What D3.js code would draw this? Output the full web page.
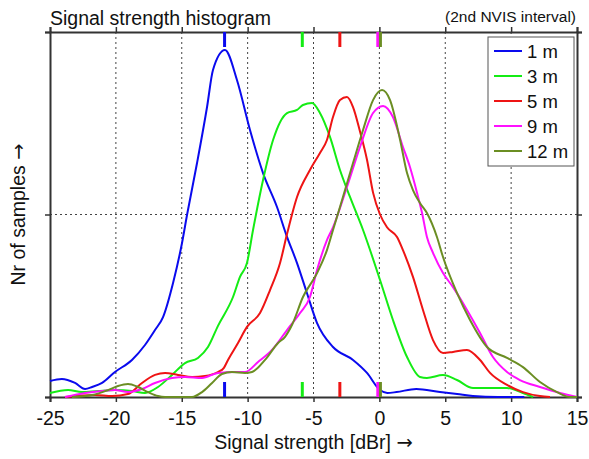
<!DOCTYPE html>
<html>
<head>
<meta charset="utf-8">
<script src="https://cdn.jsdelivr.net/npm/d3@7/dist/d3.min.js"></script>
<style>
  html, body { margin: 0; padding: 0; background: #fff; }
  svg { display: block; font-family: Arial, "Liberation Sans", sans-serif; }
</style>
</head>
<body>
<svg id="chart" width="589" height="459"></svg>
<script>
// ---- data (signal strength in dBr, relative number of samples) ----
const seriesNames = ["1 m", "3 m", "5 m", "9 m", "12 m"];
const seriesColors = ["#0a0aee", "#14ec14", "#ee1414", "#ff10ff", "#6b8e23"];

const s1m = [
  [-25.0,0.088],[-24.1,0.099],[-23.1,0.077],[-22.34,0.044],[-21.8,0.055],[-21.05,0.077],
  [-20.07,0.137],[-18.78,0.203],[-17.79,0.285],[-17.03,0.367],[-16.42,0.438],[-15.66,0.625],
  [-14.98,0.844],[-14.6,0.997],[-13.84,1.282],[-13.08,1.589],[-12.63,1.792],[-11.72,1.901],
  [-10.81,1.737],[-9.82,1.463],[-8.83,1.227],[-7.77,1.041],[-7.01,0.877],[-6.25,0.734],
  [-5.5,0.570],[-4.73,0.405],[-3.52,0.274],[-2.0,0.203],[-0.94,0.132],[0.05,0.038],
  [0.6,0.022],[1.3,0.027],[2.8,0.044],[4.6,0.027],[5.9,0.016],[7.1,0.005],[9.0,0.0],[11.0,0.0]
];
const s3m = [
  [-25.0,0.022],[-23.63,0.038],[-22.57,0.027],[-21.36,0.033],[-20.07,0.038],[-18.78,0.033],
  [-17.79,0.022],[-16.8,0.055],[-15.74,0.121],[-14.75,0.186],[-13.77,0.214],[-13.01,0.274],
  [-12.25,0.39],[-11.11,0.548],[-10.58,0.658],[-10.05,0.734],[-9.59,0.915],[-8.83,1.189],
  [-8.07,1.408],[-7.01,1.556],[-6.25,1.573],[-5.8,1.600],[-5.11,1.611],[-4.51,1.556],
  [-3.75,1.425],[-2.99,1.244],[-2.23,1.096],[-1.24,0.915],[0.05,0.641],[1.03,0.422],
  [2.1,0.219],[3.08,0.110],[3.61,0.104],[4.83,0.120],[5.89,0.093],[7.11,0.049],
  [9.69,0.049],[10.9,0.022],[11.66,0.0]
];
const s5m = [
  [-23.86,0.0],[-21.58,0.011],[-20.29,0.005],[-19.08,0.016],[-18.02,0.077],[-17.03,0.121],
  [-16.27,0.132],[-15.28,0.121],[-14.22,0.110],[-13.24,0.115],[-12.25,0.137],[-11.8,0.16],
  [-11.49,0.203],[-10.73,0.296],[-10.05,0.384],[-9.06,0.460],[-8.3,0.586],[-7.54,0.734],
  [-7.01,0.893],[-6.25,1.096],[-5.27,1.244],[-4.51,1.337],[-3.98,1.408],[-3.52,1.534],
  [-2.99,1.627],[-2.46,1.644],[-2.0,1.589],[-1.47,1.455],[-0.94,1.30],[-0.48,1.12],
  [0.05,1.0],[0.58,0.93],[1.34,0.877],[1.79,0.805],[2.55,0.658],[3.31,0.477],[4.07,0.312],
  [4.83,0.241],[5.59,0.247],[6.65,0.258],[7.64,0.203],[8.4,0.132],[9.69,0.066],
  [10.9,0.027],[12.19,0.005],[12.95,0.0]
];
const s9m = [
  [-23.86,0.0],[-22.34,0.022],[-21.05,0.033],[-20.07,0.038],[-19.08,0.027],[-18.02,0.044],
  [-17.03,0.077],[-15.74,0.104],[-14.75,0.110],[-13.46,0.104],[-12.25,0.132],[-10.96,0.137],
  [-10.2,0.137],[-9.21,0.192],[-8.15,0.258],[-7.01,0.367],[-6.02,0.460],[-5.27,0.548],
  [-4.73,0.696],[-3.98,0.860],[-3.52,0.93],[-2.46,1.151],[-1.47,1.370],[-0.48,1.556],
  [0.28,1.595],[1.03,1.534],[1.79,1.37],[2.32,1.26],[2.86,1.118],[3.24,1.008],[3.61,0.877],
  [4.07,0.790],[4.83,0.679],[5.59,0.602],[6.65,0.477],[7.64,0.351],[8.62,0.219],
  [9.69,0.137],[10.67,0.093],[12.19,0.055],[13.71,0.022],[15.0,0.0]
];
const s12m = [
  [-23.33,0.0],[-21.81,0.011],[-20.6,0.038],[-19.84,0.060],[-19.08,0.071],[-18.32,0.055],
  [-17.56,0.027],[-16.8,0.005],[-16.27,0.0],[-14.22,0.0],[-13.46,0.027],[-12.7,0.077],
  [-11.95,0.126],[-11.19,0.137],[-10.2,0.132],[-9.67,0.137],[-8.68,0.203],[-7.69,0.296],
  [-7.16,0.33],[-6.6,0.40],[-5.8,0.548],[-4.73,0.679],[-3.98,0.805],[-3.52,0.915],
  [-2.99,1.041],[-2.0,1.282],[-1.24,1.463],[-0.48,1.627],[0.2,1.682],[0.81,1.627],
  [1.57,1.41],[2.1,1.227],[2.55,1.134],[3.08,1.063],[3.61,1.008],[4.37,0.877],
  [4.83,0.767],[5.89,0.570],[6.88,0.422],[8.17,0.274],[9.69,0.214],[10.9,0.164],
  [12.19,0.082],[13.48,0.027],[14.47,0.0],[15.0,0.0]
];
const seriesData = [s1m, s3m, s5m, s9m, s12m];
// median markers (dBr) drawn at top and bottom
const markerValues = [-11.75, -5.85, -3.0, -0.12, 0.08];

const xTicks = [-25, -20, -15, -10, -5, 0, 5, 10, 15];
const yTicks = [0, 1, 2];

// ---- layout ----
const svg = d3.select("#chart");
const L = 50, R = 577, T = 32, B = 397;
const x = d3.scaleLinear().domain([-25, 15]).range([L, R]);
const y = d3.scaleLinear().domain([0, 2]).range([B, T]);
const axisColor = "#333";
const FONT = "Arial, 'Liberation Sans', sans-serif";

// grid
const grid = svg.append("g");
grid.selectAll("line.gx").data(xTicks.slice(1, -1)).join("line")
  .attr("x1", d => x(d)).attr("x2", d => x(d)).attr("y1", T).attr("y2", B)
  .attr("stroke", "#444").attr("stroke-width", 1).attr("stroke-dasharray", "2,3");
grid.selectAll("line.gy").data([1]).join("line")
  .attr("x1", L).attr("x2", R).attr("y1", d => y(d)).attr("y2", d => y(d))
  .attr("stroke", "#444").attr("stroke-width", 1).attr("stroke-dasharray", "2,3");

// axes (frame with outward ticks)
const fmt = d => d < 0 ? "-" + Math.abs(d) : String(d);
const xb = svg.append("g").attr("transform", `translate(0,${B})`)
  .call(d3.axisBottom(x).tickValues(xTicks).tickSize(5).tickPadding(9).tickFormat(fmt));
const xt = svg.append("g").attr("transform", `translate(0,${T})`)
  .call(d3.axisTop(x).tickValues(xTicks).tickSize(5).tickFormat(""));
const yl = svg.append("g").attr("transform", `translate(${L},0)`)
  .call(d3.axisLeft(y).tickValues(yTicks).tickSize(5).tickFormat(""));
const yr = svg.append("g").attr("transform", `translate(${R},0)`)
  .call(d3.axisRight(y).tickValues(yTicks).tickSize(5).tickFormat(""));
[xb, xt, yl, yr].forEach(g => {
  g.select(".domain").attr("stroke", axisColor).attr("stroke-width", 2);
  g.selectAll(".tick line").attr("stroke", axisColor).attr("stroke-width", 1.5);
});
xb.selectAll(".tick text").attr("font-size", 19.5).attr("fill", "#111")
  .attr("font-family", FONT);

// curves
const line = d3.line().x(d => x(d[0])).y(d => y(d[1])).curve(d3.curveMonotoneX);
const plot = svg.append("g");
seriesData.forEach((s, i) => {
  plot.append("path").datum(s).attr("d", line)
    .attr("fill", "none").attr("stroke", seriesColors[i]).attr("stroke-width", 2)
    .attr("stroke-linejoin", "round");
});

// median markers
const markLen = 15;
markerValues.forEach((v, i) => {
  plot.append("line").attr("x1", x(v)).attr("x2", x(v)).attr("y1", T).attr("y2", T + markLen)
    .attr("stroke", seriesColors[i]).attr("stroke-width", 3);
  plot.append("line").attr("x1", x(v)).attr("x2", x(v)).attr("y1", B).attr("y2", B - markLen)
    .attr("stroke", seriesColors[i]).attr("stroke-width", 3);
});

// legend
const lg = svg.append("g");
lg.append("rect").attr("x", 488).attr("y", 37).attr("width", 86).attr("height", 129)
  .attr("fill", "#fff").attr("stroke", "#555").attr("stroke-width", 1);
seriesNames.forEach((n, i) => {
  const cy = 51 + i * 25;
  lg.append("line").attr("x1", 494).attr("x2", 522).attr("y1", cy).attr("y2", cy)
    .attr("stroke", seriesColors[i]).attr("stroke-width", 2);
  lg.append("text").attr("x", 527).attr("y", cy + 6.5).attr("font-size", 18.5).attr("fill", "#111")
    .text(n);
});

// titles
svg.append("text").attr("x", 50).attr("y", 25).attr("font-size", 19.5).attr("fill", "#111")
  .text("Signal strength histogram");
svg.append("text").attr("x", 576).attr("y", 22).attr("font-size", 15.5).attr("fill", "#111")
  .attr("text-anchor", "end").text("(2nd NVIS interval)");
const xl = svg.append("text").attr("x", (L + R) / 2).attr("y", 449).attr("font-size", 19.5)
  .attr("fill", "#111").attr("text-anchor", "middle");
xl.append("tspan").text("Signal strength [dBr] ");
xl.append("tspan").attr("font-family", "'DejaVu Sans', sans-serif").text("\u2192");
const ylab = svg.append("text").attr("transform", `translate(25,${(T + B) / 2}) rotate(-90)`)
  .attr("font-size", 19.5).attr("fill", "#111").attr("text-anchor", "middle");
ylab.append("tspan").text("Nr of samples ");
ylab.append("tspan").attr("font-family", "'DejaVu Sans', sans-serif").text("\u2192");
</script>
</body>
</html>
